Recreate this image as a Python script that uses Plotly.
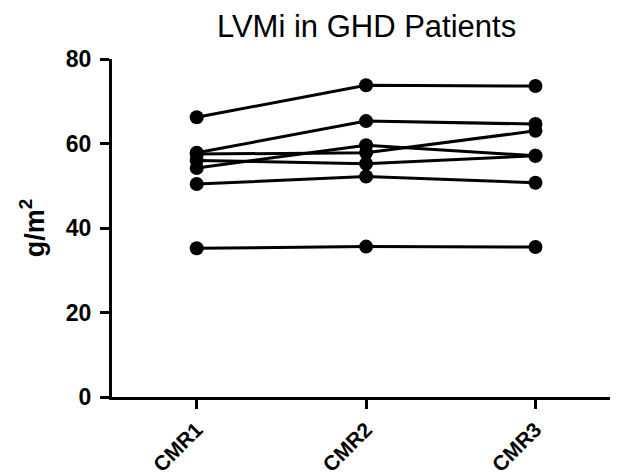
import plotly.graph_objects as go

categories = ["CMR1", "CMR2", "CMR3"]
patients = [
    [66.2, 73.8, 73.6],
    [57.8, 65.3, 64.6],
    [57.5, 57.8, 63.0],
    [56.0, 55.2, 57.1],
    [54.2, 59.6, 57.1],
    [50.4, 52.2, 50.7],
    [35.2, 35.6, 35.5],
]
y_ticks = [0, 20, 40, 60, 80]
title_text = "LVMi in GHD Patients"
y_title = "g/m<sup>2</sup>"

fig = go.Figure()
for vals in patients:
    fig.add_trace(go.Scatter(
        x=[0, 1, 2], y=vals, mode="lines+markers",
        line=dict(color="black", width=3),
        marker=dict(color="black", size=14),
        showlegend=False, hoverinfo="skip",
    ))

font_family = "Liberation Sans, Arial, sans-serif"
fig.update_layout(
    width=622, height=474,
    margin=dict(l=112, r=12, t=59, b=77),
    plot_bgcolor="white", paper_bgcolor="white",
    font=dict(family=font_family, color="black"),
)
fig.update_xaxes(
    range=[-0.5, 2.44], tickmode="array", tickvals=[0, 1, 2], ticktext=categories,
    showgrid=False, zeroline=False, showline=True, linecolor="black", linewidth=3,
    ticks="outside", ticklen=9, tickwidth=3, tickcolor="black", tickangle=-45,
    tickfont=dict(size=21, weight="bold", family=font_family, color="black"),
    automargin=False,
)
fig.update_yaxes(
    range=[0, 80], tickmode="array", tickvals=y_ticks,
    showgrid=False, zeroline=False, showline=True, linecolor="black", linewidth=3,
    ticks="outside", ticklen=9, tickwidth=3, tickcolor="black",
    tickfont=dict(size=23, weight="bold", family=font_family, color="black"),
    ticklabelstandoff=4, automargin=False,
)
fig.add_annotation(
    text=y_title, xref="paper", yref="paper", x=-0.16, y=0.5,
    xanchor="center", yanchor="middle", textangle=-90, showarrow=False,
    font=dict(size=27, weight="bold", family=font_family, color="black"),
)
fig.add_annotation(
    text=title_text, xref="paper", yref="paper", x=0.511, y=1.097,
    xanchor="center", yanchor="middle", showarrow=False,
    font=dict(size=31, family=font_family, color="black"),
)
fig.write_html(
    "out.html",
    config={"displayModeBar": False},
    post_script="document.body.style.margin='0';",
)
